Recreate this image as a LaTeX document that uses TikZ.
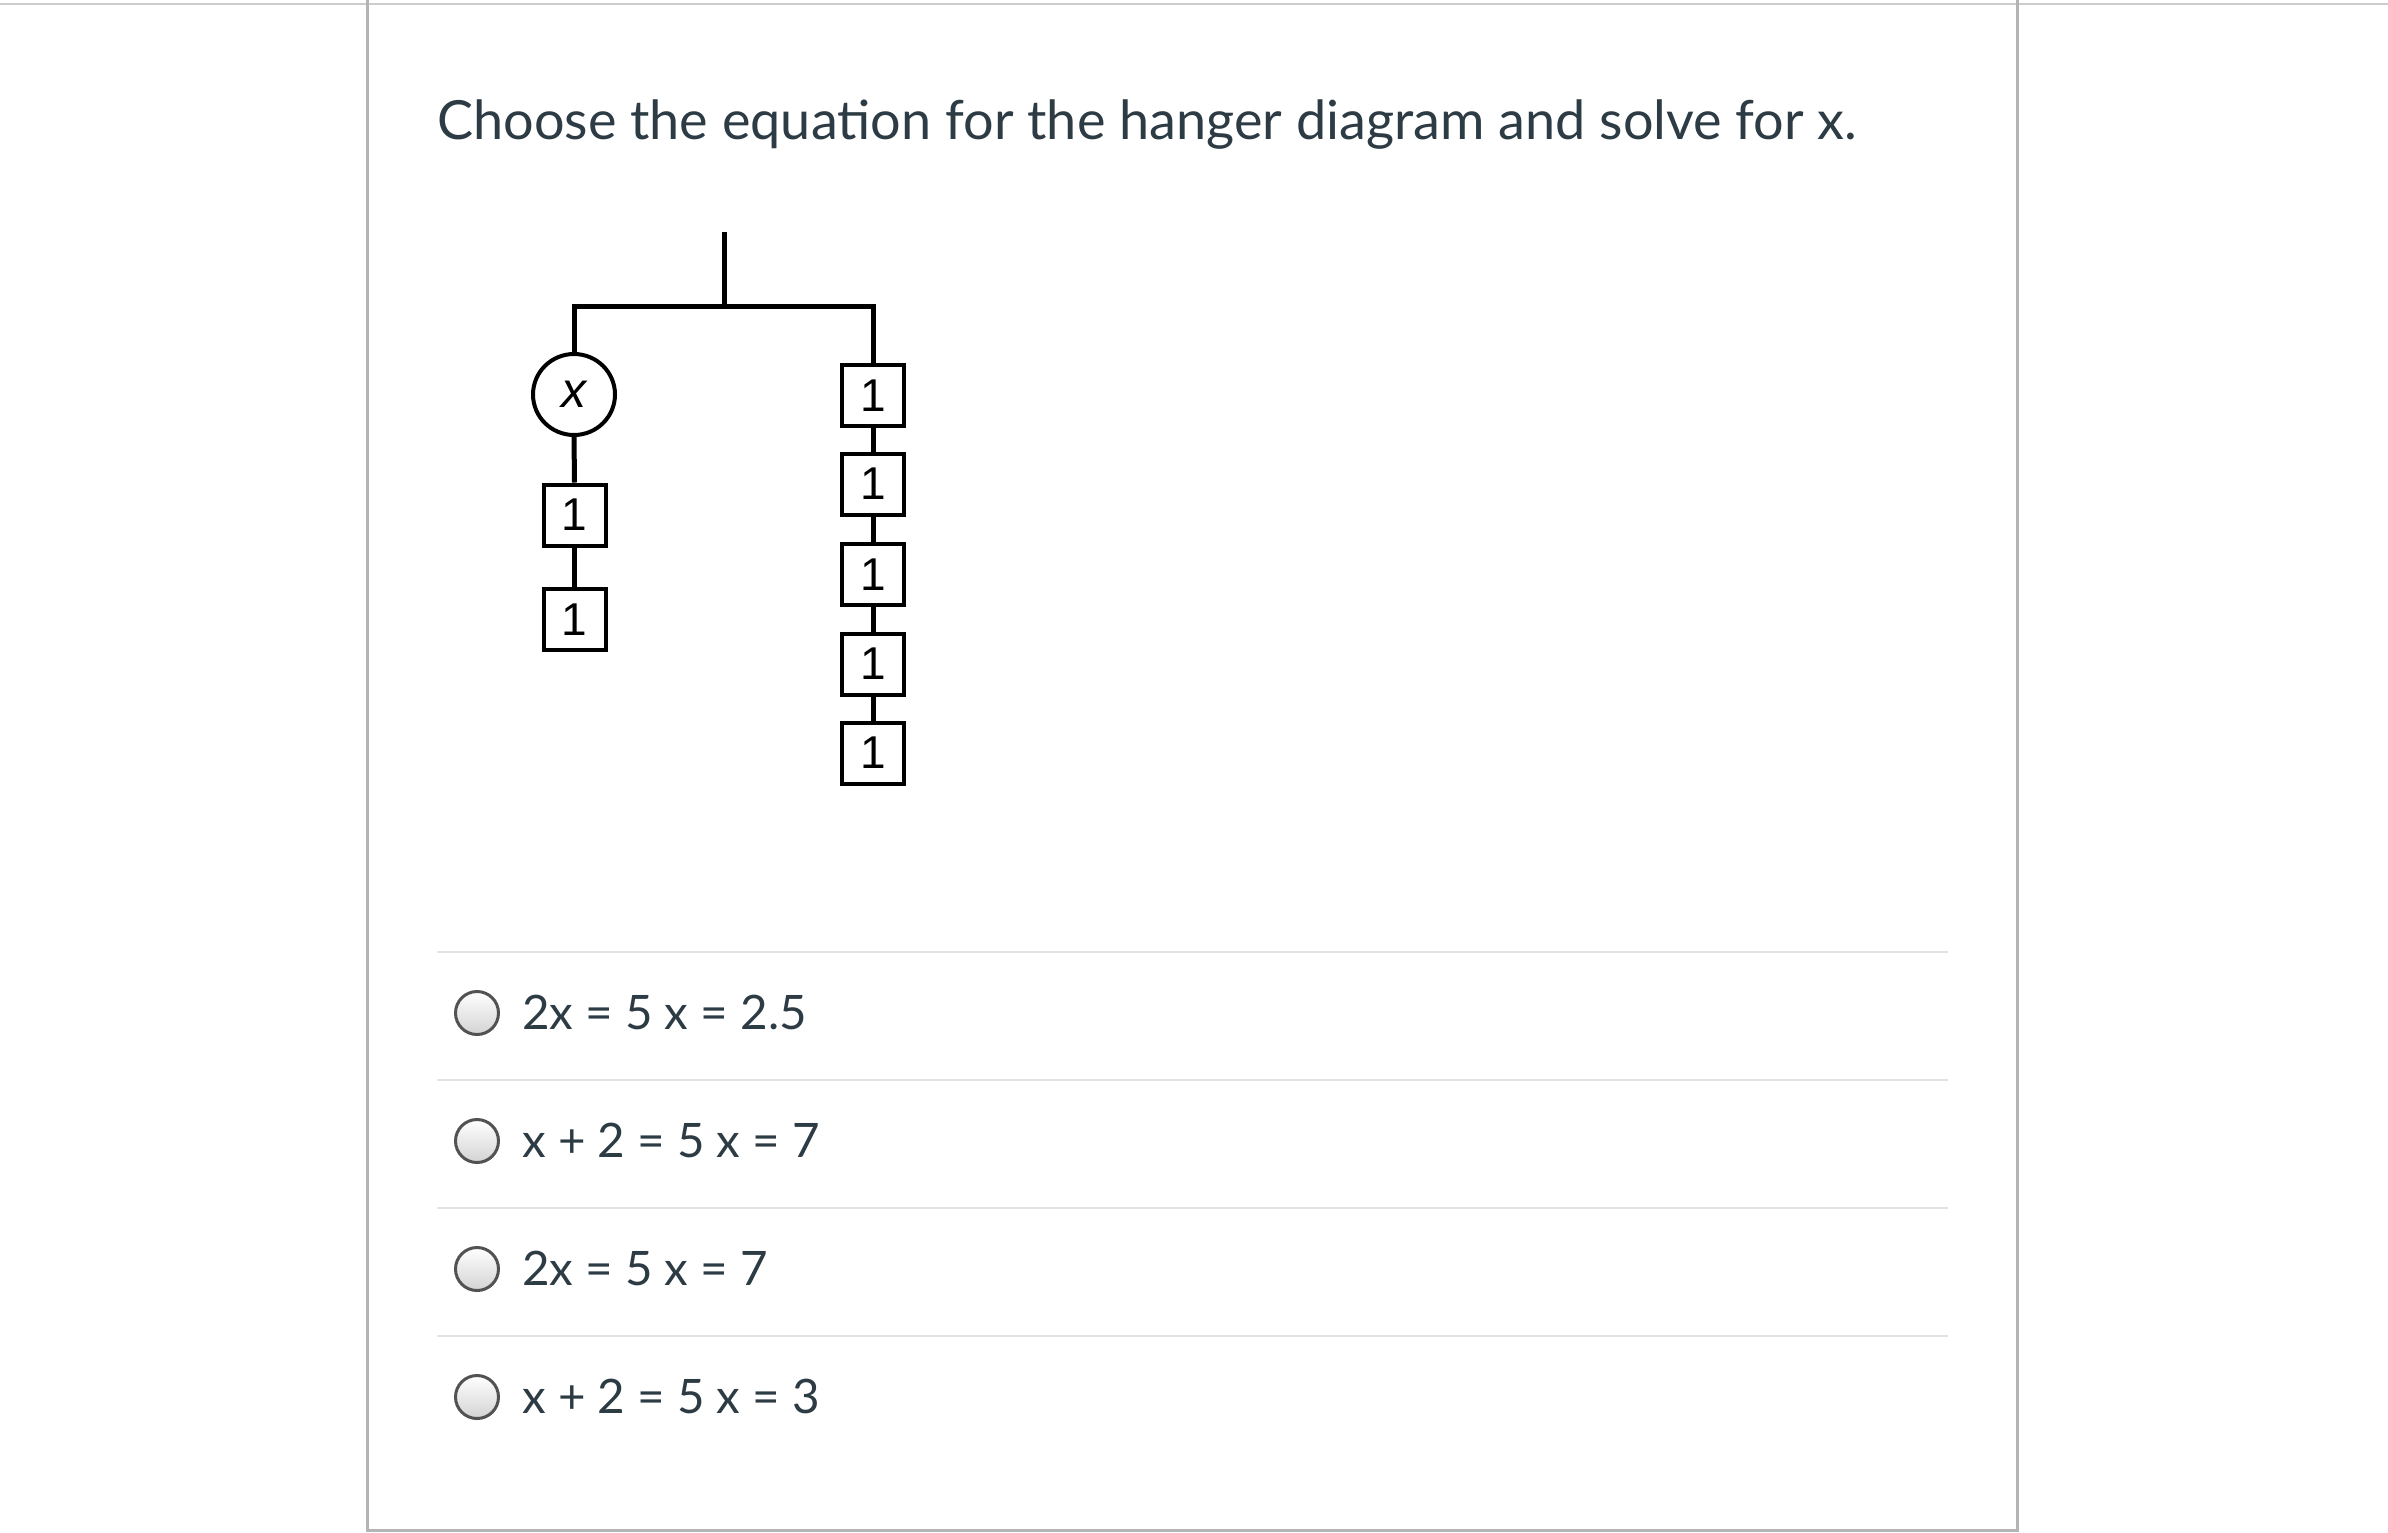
\documentclass[tikz,border=0pt]{standalone}
\usepackage{fontspec}
\setmainfont{Lato}
\newfontfamily\hfont{Liberation Sans}
\usetikzlibrary{shapes.geometric}
\definecolor{txt}{HTML}{2D3B45}
\definecolor{bord}{HTML}{B4B4B4}
\definecolor{sepc}{HTML}{E2E2E2}
\begin{document}
\begin{tikzpicture}[x=1pt,y=-1pt,
  unitbox/.style={draw,line width=4pt,minimum width=62pt,minimum height=61pt,inner sep=0pt,font=\hfont\fontsize{46}{46}\selectfont},
  hang/.style={line width=5pt},
  radio/.style={circle,draw=black!68,line width=3pt,minimum size=43pt,inner sep=0pt,top color=white,bottom color=black!17},
  sepline/.style={draw=sepc,line width=2.5pt},
  opt/.style={anchor=base west,font=\fontsize{47.5}{58}\selectfont,text=txt,inner sep=0pt}
]
\useasboundingbox (0,0) rectangle (2388,1532);
\fill[white] (0,0) rectangle (2388,1532);
% frame
\coordinate (tl) at (0,4); \coordinate (tr) at (2388,4);
\draw[draw=black!20,line width=2pt] (tl) -- (tr);
\coordinate (bl) at (367,0); \coordinate (bb) at (367,1530);
\coordinate (br) at (2017,1530); \coordinate (bt) at (2017,0);
\draw[draw=bord,line width=3pt] (bl) -- (bb) -- (br) -- (bt);
% title
\node[anchor=base west,inner sep=0pt,text=txt,font=\fontsize{54}{66}\selectfont] (title) at (437,139) {Choose the equation for the hanger diagram and solve for x.};
% hanger
\coordinate (top) at (724,232);
\coordinate (mid) at (724,306);
\coordinate (lb) at (574,306);
\coordinate (rb) at (873,306);
\node[ellipse,draw,line width=4pt,minimum width=82pt,minimum height=81pt,inner sep=0pt,font=\hfont\itshape\fontsize{50}{50}\selectfont] (xw) at (574,394.5) {x};
\node[unitbox] (l1) at (574.5,515) {1};
\node[unitbox] (l2) at (574.5,619.5) {1};
\node[unitbox] (r1) at (873,395.5) {1};
\node[unitbox] (r2) at (873,484) {1};
\node[unitbox] (r3) at (873,574.5) {1};
\node[unitbox] (r4) at (873,664) {1};
\node[unitbox] (r5) at (873,753) {1};
\draw[hang] (top) -- (mid);
\draw[hang] (xw.north) -- (lb) -- (rb) -- (r1.north);
\draw[hang] (xw.south) -- (l1.north);
\draw[hang] (l1.south) -- (l2.north);
\draw[hang] (r1.south) -- (r2.north);
\draw[hang] (r2.south) -- (r3.north);
\draw[hang] (r3.south) -- (r4.north);
\draw[hang] (r4.south) -- (r5.north);
% separators
\coordinate (s1a) at (437,952); \coordinate (s1b) at (1948,952);
\coordinate (s2a) at (437,1080); \coordinate (s2b) at (1948,1080);
\coordinate (s3a) at (437,1208); \coordinate (s3b) at (1948,1208);
\coordinate (s4a) at (437,1336); \coordinate (s4b) at (1948,1336);
\draw[sepline] (s1a) -- (s1b);
\draw[sepline] (s2a) -- (s2b);
\draw[sepline] (s3a) -- (s3b);
\draw[sepline] (s4a) -- (s4b);
% options
\node[radio] (rad1) at (477,1013) {};
\node[radio] (rad2) at (477,1141) {};
\node[radio] (rad3) at (477,1269) {};
\node[radio] (rad4) at (477,1397) {};
\node[opt] (o1) at (522,1029) {2x = 5 x = 2.5};
\node[opt] (o2) at (522,1157) {x + 2 = 5 x = 7};
\node[opt] (o3) at (522,1285) {2x = 5 x = 7};
\node[opt] (o4) at (522,1413) {x + 2 = 5 x = 3};
\end{tikzpicture}
\end{document}
